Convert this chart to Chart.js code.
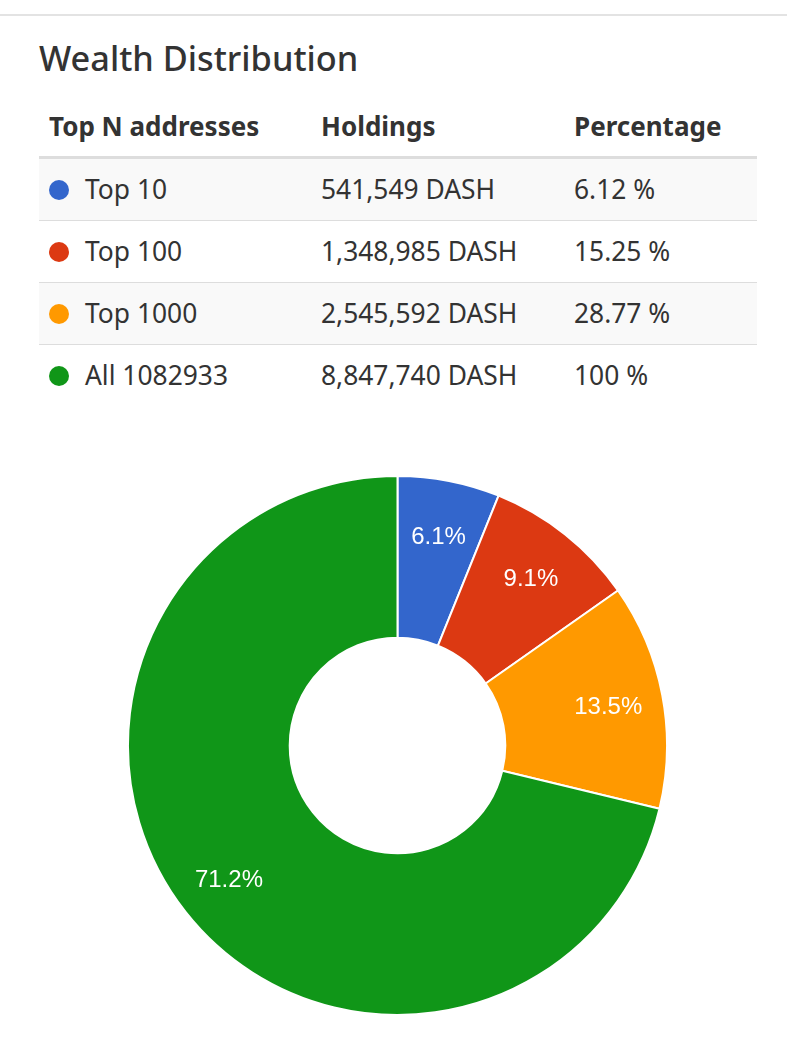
<!DOCTYPE html>
<html lang="en">

<head>
    <meta charset="UTF-8">
    <meta name="viewport" content="width=device-width, initial-scale=1.0">
    <title>Wealth Distribution</title>
    <script src="https://cdn.jsdelivr.net/npm/chart.js"></script>
    <style>
        body { margin: 0; font-family: "Noto Sans", sans-serif; color: #333; background: #fff; }
        .topline { position: absolute; top: 14px; left: 0; width: 787px; height: 2px; background: #e3e3e3; }
        h2 { position: absolute; left: 39px; top: 40px; margin: 0; font-size: 34.3px; font-weight: 500; line-height: 35px; }
        table { position: absolute; left: 39px; top: 100px; width: 718px; border-collapse: collapse; table-layout: fixed; font-size: 26.4px; }
        th { text-align: left; font-weight: 700; font-size: 26px; padding: 6px 10px 10px; line-height: 40px; border-bottom: 3px solid #ddd; }
        td { padding: 10px 10px 11px; line-height: 40px; white-space: nowrap; }
        tbody tr + tr td { border-top: 1px solid #ddd; }
        tbody tr:nth-child(odd) { background: #f9f9f9; }
        .dot { display: inline-block; width: 20px; height: 20px; border-radius: 50%; margin-right: 16px; vertical-align: -1px; }
        #box { position: absolute; left: 127px; top: 475px; width: 541px; height: 541px; }
    </style>
</head>

<body>
    <div class="topline"></div>
    <h2>Wealth Distribution</h2>
    <table>
        <colgroup><col style="width:272px"><col style="width:253px"><col style="width:193px"></colgroup>
        <thead>
            <tr><th>Top N addresses</th><th>Holdings</th><th>Percentage</th></tr>
        </thead>
        <tbody id="linhas"></tbody>
    </table>
    <div id="box"><canvas id="grafico"></canvas></div>
</body>

</html>

<script>
    // table
    const grupos = ['Top 10', 'Top 100', 'Top 1000', 'All 1082933'];
    const holdings = [541549, 1348985, 2545592, 8847740];
    const percentuais = ['6.12', '15.25', '28.77', '100'];
    const cores = ['#3366cc', '#dc3912', '#ff9900', '#109618'];

    // doughnut slices (each band: top 10, 11-100, 101-1000, the rest)
    const fatias = ['Top 10', 'Top 100', 'Top 1000', 'All'];
    const valoresFatias = [541549, 807436, 1196607, 6302148];

    const linhas = document.getElementById('linhas');
    grupos.forEach((g, i) => {
        const tr = document.createElement('tr');
        tr.innerHTML = `<td><span class="dot" style="background:${cores[i]}"></span>${g}</td>` +
            `<td>${holdings[i].toLocaleString('en-US')} DASH</td>` +
            `<td>${percentuais[i]} %</td>`;
        linhas.appendChild(tr);
    });

    const rotulos = {
        id: 'rotulos',
        afterDatasetsDraw(chart) {
            const ctx = chart.ctx;
            const meta = chart.getDatasetMeta(0);
            const dados = chart.data.datasets[0].data;
            const total = dados.reduce((a, b) => a + b, 0);
            ctx.save();
            ctx.fillStyle = '#fff';
            ctx.font = '24px "Liberation Sans", Arial, sans-serif';
            ctx.textAlign = 'center';
            ctx.textBaseline = 'alphabetic';
            meta.data.forEach((arc, i) => {
                const p = arc.getProps(['x', 'y', 'startAngle', 'endAngle', 'innerRadius', 'outerRadius'], true);
                const meio = (p.startAngle + p.endAngle) / 2;
                const r = p.innerRadius + 0.66 * (p.outerRadius - p.innerRadius);
                const x = p.x + Math.cos(meio) * r;
                const y = p.y + Math.sin(meio) * r;
                const txt = (dados[i] / total * 100).toFixed(1) + '%';
                ctx.fillText(txt, x, y + 8.6);
            });
            ctx.restore();
        }
    };

    new Chart(document.getElementById('grafico'), {
        type: 'doughnut',
        data: {
            labels: fatias,
            datasets: [{
                data: valoresFatias,
                backgroundColor: cores,
                borderColor: '#fff',
                borderWidth: 2,
                hoverOffset: 0
            }]
        },
        options: {
            responsive: true,
            maintainAspectRatio: false,
            animation: false,
            cutout: '40%',
            plugins: {
                legend: { display: false },
                tooltip: { enabled: false }
            }
        },
        plugins: [rotulos]
    });
</script>
